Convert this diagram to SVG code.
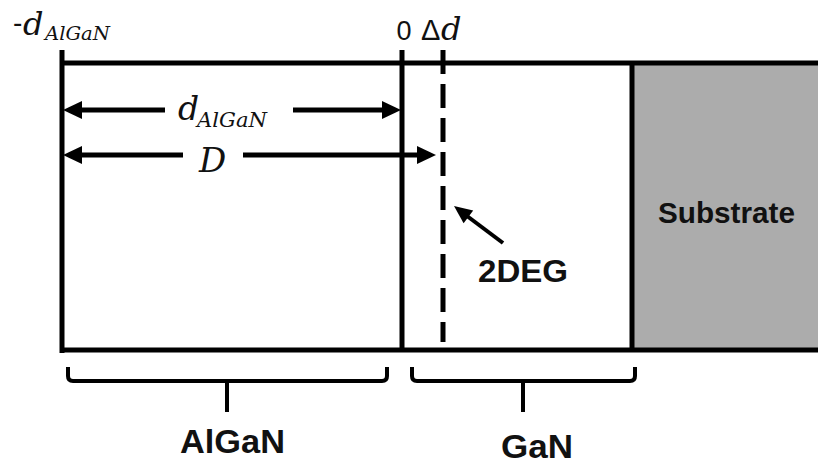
<svg xmlns="http://www.w3.org/2000/svg" width="818" height="466" viewBox="0 0 818 466">
<style>
.ln{stroke:#000;stroke-width:5;fill:none}
.br{stroke:#000;stroke-width:4;fill:none}
.ah{fill:#000;stroke:none}
.lab{font-family:"Liberation Sans",Arial,sans-serif;font-weight:bold;fill:#111}
.m{font-family:"DejaVu Serif","Liberation Serif",serif;font-style:italic;fill:#111}
.n{font-family:"Liberation Sans",Arial,sans-serif;fill:#111}
</style>
<rect width="818" height="466" fill="#fff"/>
<g id="substrate">
<rect x="632" y="63" width="186" height="287" fill="#ACACAC"/>
<line class="ln" x1="632" y1="63" x2="632" y2="350"/>
<text class="lab" x="658" y="223" font-size="29" textLength="137" lengthAdjust="spacingAndGlyphs">Substrate</text>
</g>
<g id="layers">
<line class="ln" x1="62" y1="50" x2="62" y2="353"/>
<line class="ln" x1="60" y1="63" x2="818" y2="63"/>
<line class="ln" x1="60" y1="350" x2="818" y2="350"/>
<line class="ln" x1="402" y1="50" x2="402" y2="352"/>
<line class="ln" x1="443" y1="50" x2="443" y2="342" stroke-dasharray="24 10"/>
</g>
<g id="axis-labels">
<text class="n" x="13" y="32" font-size="28">-</text>
<text class="m" x="23" y="35" font-size="32">d</text>
<text class="m" x="45" y="40" font-size="19" textLength="65" lengthAdjust="spacingAndGlyphs">AlGaN</text>
<text class="n" x="404" y="40" font-size="27" text-anchor="middle">0</text>
<text class="n" x="421" y="40" font-size="29" font-family="DejaVu Serif">Δ</text>
<text class="m" x="441" y="40" font-size="32">d</text>
</g>
<g id="connectors">
<line class="ln" x1="80" y1="110" x2="165" y2="110"/>
<polygon class="ah" points="63,110 82,101 82,119"/>
<line class="ln" x1="293" y1="110" x2="384" y2="110"/>
<polygon class="ah" points="401,110 382,101 382,119"/>
<line class="ln" x1="80" y1="155" x2="183" y2="155"/>
<polygon class="ah" points="63,155 82,146 82,164"/>
<line class="ln" x1="243" y1="155" x2="420" y2="155"/>
<polygon class="ah" points="436,155 417,146 417,164"/>
<line x1="503" y1="243" x2="467" y2="216" stroke="#000" stroke-width="4"/>
<polygon class="ah" points="454,206 473.2,210.5 463.6,223.3"/>
</g>
<g id="dim-labels">
<text class="m" x="178" y="120" font-size="33">d</text>
<text class="m" x="197" y="127" font-size="20" textLength="70" lengthAdjust="spacingAndGlyphs">AlGaN</text>
<text class="m" x="199" y="172" font-size="34">D</text>
</g>
<g id="twodeg">
<text class="lab" x="478" y="282" font-size="32" textLength="90" lengthAdjust="spacingAndGlyphs">2DEG</text>
</g>
<g id="brace-algan">
<path class="br" d="M68,367 L68,376 Q68,381 73,381 L382,381 Q387,381 387,376 L387,367"/>
<line class="br" x1="227" y1="381" x2="227" y2="412"/>
<text class="lab" x="180" y="453" font-size="33" textLength="105" lengthAdjust="spacingAndGlyphs">AlGaN</text>
</g>
<g id="brace-gan">
<path class="br" d="M412,367 L412,376 Q412,381 417,381 L630,381 Q635,381 635,376 L635,367"/>
<line class="br" x1="523" y1="381" x2="523" y2="412"/>
<text class="lab" x="501" y="458" font-size="33" textLength="72" lengthAdjust="spacingAndGlyphs">GaN</text>
</g>
</svg>
